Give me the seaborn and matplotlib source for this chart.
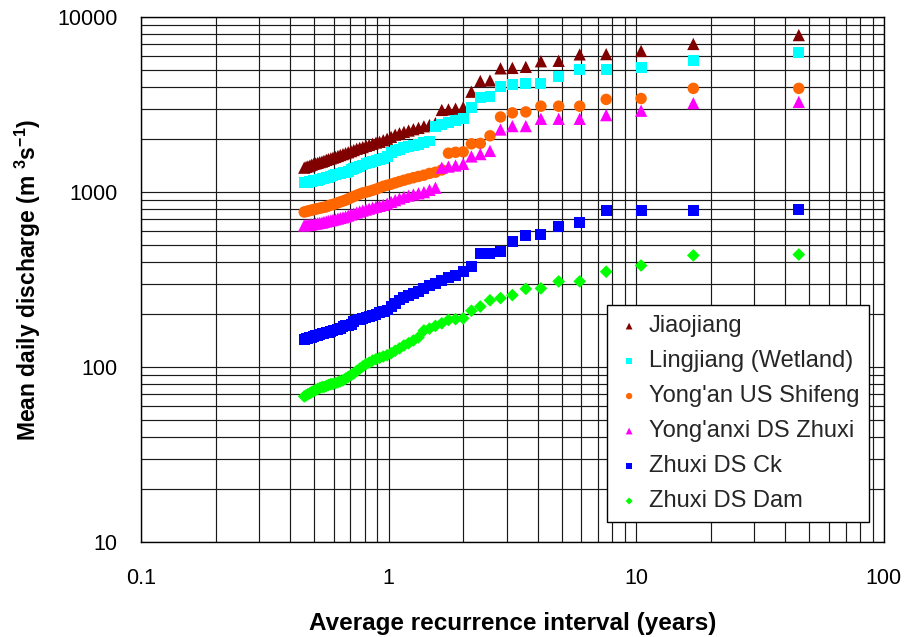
import numpy as np
import pandas as pd
import matplotlib
matplotlib.use("Agg")
import matplotlib.pyplot as plt
from matplotlib.ticker import LogLocator, FixedLocator, FixedFormatter, NullFormatter
import seaborn as sns

# Average recurrence interval (years) for each ranked flow event
recurrence = [
    45.33, 17.0, 10.46, 7.56, 5.91, 4.86, 4.12, 3.58, 3.16, 2.83,
    2.566, 2.345, 2.159, 2.0, 1.863, 1.744, 1.639, 1.545, 1.462, 1.388,
    1.320, 1.259, 1.204, 1.153, 1.106, 1.0625, 1.023, 0.986, 0.951, 0.919,
    0.889, 0.861, 0.834, 0.810, 0.786, 0.764, 0.743, 0.723, 0.705, 0.687,
    0.670, 0.654, 0.638, 0.624, 0.610, 0.596, 0.584, 0.571, 0.560, 0.548,
    0.538, 0.527, 0.517, 0.507, 0.498, 0.489, 0.481, 0.472, 0.464, 0.456,
]

# Mean daily discharge (m3/s) per station, same ranking as above
jiaojiang = [
    7900, 7030, 6410, 6150, 6130, 5630, 5600, 5200, 5130, 5100,
    4350, 4320, 3750, 3050, 3000, 2970, 2950, 2480, 2420, 2380,
    2330, 2290, 2250, 2210, 2170, 2130, 2070, 2020, 1980, 1940,
    1920, 1890, 1860, 1840, 1810, 1790, 1770, 1740, 1715, 1690,
    1670, 1650, 1630, 1610, 1590, 1575, 1560, 1545, 1530, 1510,
    1495, 1485, 1470, 1460, 1450, 1435, 1420, 1405, 1395, 1380,
]
lingjiang = [
    6310, 5650, 5180, 5020, 5020, 4560, 4180, 4180, 4120, 4040,
    3520, 3480, 3050, 2650, 2560, 2500, 2440, 2380, 1960, 1920,
    1880, 1850, 1820, 1790, 1760, 1720, 1680, 1600, 1560, 1530,
    1510, 1490, 1470, 1450, 1430, 1400, 1380, 1360, 1340, 1320,
    1300, 1290, 1280, 1270, 1260, 1245, 1230, 1220, 1210, 1200,
    1190, 1180, 1170, 1165, 1160, 1150, 1145, 1140, 1135, 1130,
]
yongan_us_shifeng = [
    3920, 3920, 3430, 3390, 3100, 3100, 3100, 2875, 2840, 2690,
    2100, 1900, 1890, 1700, 1690, 1670, 1340, 1300, 1280, 1250,
    1230, 1210, 1190, 1170, 1150, 1130, 1110, 1095, 1080, 1060,
    1040, 1025, 1010, 1000, 990, 975, 960, 945, 930, 915,
    900, 890, 880, 870, 860, 850, 845, 835, 825, 820,
    815, 810, 805, 800, 795, 790, 785, 780, 775, 770,
]
yonganxi_ds_zhuxi = [
    3280, 3225, 2920, 2755, 2625, 2625, 2625, 2385, 2385, 2280,
    1720, 1650, 1600, 1450, 1420, 1400, 1380, 1060, 1030, 1000,
    985, 970, 955, 940, 920, 900, 880, 860, 845, 835,
    825, 815, 805, 795, 785, 775, 765, 755, 745, 735,
    725, 718, 712, 706, 700, 695, 690, 685, 680, 675,
    670, 667, 664, 661, 658, 655, 652, 650, 648, 645,
]
zhuxi_ds_ck = [
    800, 782, 782, 782, 668, 634, 570, 562, 520, 456,
    447, 447, 374, 350, 335, 325, 312, 300, 292, 282,
    272, 265, 258, 250, 242, 232, 222, 212, 207, 204,
    200, 197, 194, 192, 190, 188, 186, 182, 176, 174,
    172, 170, 166, 164, 163, 161, 160, 158, 157, 156,
    155, 154, 152, 151, 150, 148, 147, 146, 145, 143,
]
zhuxi_ds_dam = [
    440, 435, 381, 351, 309, 309, 282, 280, 258, 248,
    241, 222, 210, 190, 188, 186, 178, 172, 166, 162,
    148, 142, 137, 133, 128, 124, 120, 117, 115, 113,
    111, 109, 106, 104, 101, 98, 95, 92, 90, 88,
    86, 84, 83, 82, 81, 80, 80, 79, 78, 77,
    77, 76, 75, 74, 73, 72, 71, 70, 69, 68,
]

stations = ["Jiaojiang", "Lingjiang (Wetland)", "Yong'an US Shifeng",
            "Yong'anxi DS Zhuxi", "Zhuxi DS Ck", "Zhuxi DS Dam"]
series = [jiaojiang, lingjiang, yongan_us_shifeng, yonganxi_ds_zhuxi,
          zhuxi_ds_ck, zhuxi_ds_dam]
colors = ["#800000", "#00FFFF", "#FF6600", "#FF00FF", "#0000FF", "#00FF00"]
markers = ["^", "s", "o", "^", "s", "D"]
sizes = [78, 62, 68, 78, 62, 42]

frames = [pd.DataFrame({"interval": recurrence, "discharge": q, "station": name})
          for name, q in zip(stations, series)]
df = pd.concat(frames, ignore_index=True)

sns.set_theme(style="white")
plt.rcParams["font.family"] = ["Liberation Sans", "DejaVu Sans"]
plt.rcParams["mathtext.default"] = "regular"

fig = plt.figure(figsize=(9.07, 6.37), dpi=100)
ax = fig.add_axes([0.1555, 0.149, 0.819, 0.824])

for name, col, mk, sz in zip(stations, colors, markers, sizes):
    sns.scatterplot(data=df[df["station"] == name], x="interval", y="discharge",
                    color=col, marker=mk, s=sz, edgecolor="none", linewidth=0,
                    label=name, ax=ax, zorder=3)

ax.set_xscale("log")
ax.set_yscale("log")
ax.set_xlim(0.1, 100)
ax.set_ylim(10, 10000)

xt = [0.1, 1, 10, 100]
yt = [10, 100, 1000, 10000]
ax.xaxis.set_major_locator(FixedLocator(xt))
ax.xaxis.set_major_formatter(FixedFormatter(["0.1", "1", "10", "100"]))
ax.yaxis.set_major_locator(FixedLocator(yt))
ax.yaxis.set_major_formatter(FixedFormatter(["10", "100", "1000", "10000"]))
for axis in (ax.xaxis, ax.yaxis):
    axis.set_minor_locator(LogLocator(base=10, subs=np.arange(2, 10), numticks=20))
    axis.set_minor_formatter(NullFormatter())

ax.grid(True, which="both", color="#1a1a1a", linewidth=0.85, zorder=0)
ax.set_axisbelow(True)
for sp in ax.spines.values():
    sp.set_color("black")
    sp.set_linewidth(1.0)

ax.tick_params(axis="both", which="major", direction="out", length=5,
               width=1, color="black", labelsize=15.5, labelcolor="black")
ax.tick_params(axis="y", which="major", pad=12)
ax.tick_params(axis="x", which="major", pad=14)
ax.tick_params(axis="both", which="minor", length=0)

ax.set_xlabel("Average recurrence interval (years)", fontsize=17.5,
              fontweight="bold", labelpad=16, color="black")
ax.set_ylabel("Mean daily discharge (m $^{3}$s$^{-1}$)", fontsize=16.5,
              fontweight="bold", labelpad=10, color="black")

leg = ax.legend(loc="upper right", bbox_to_anchor=(0.98, 0.451), fontsize=17,
                frameon=True, fancybox=False, shadow=False, markerscale=0.55,
                handletextpad=0.3, borderpad=0.42, labelspacing=0.55,
                handlelength=1.05, borderaxespad=0)
leg.get_frame().set_edgecolor("black")
leg.get_frame().set_linewidth(1.0)
leg.get_frame().set_facecolor("white")
leg.get_frame().set_alpha(1.0)

fig.savefig("out.png", dpi=100, facecolor="white")
